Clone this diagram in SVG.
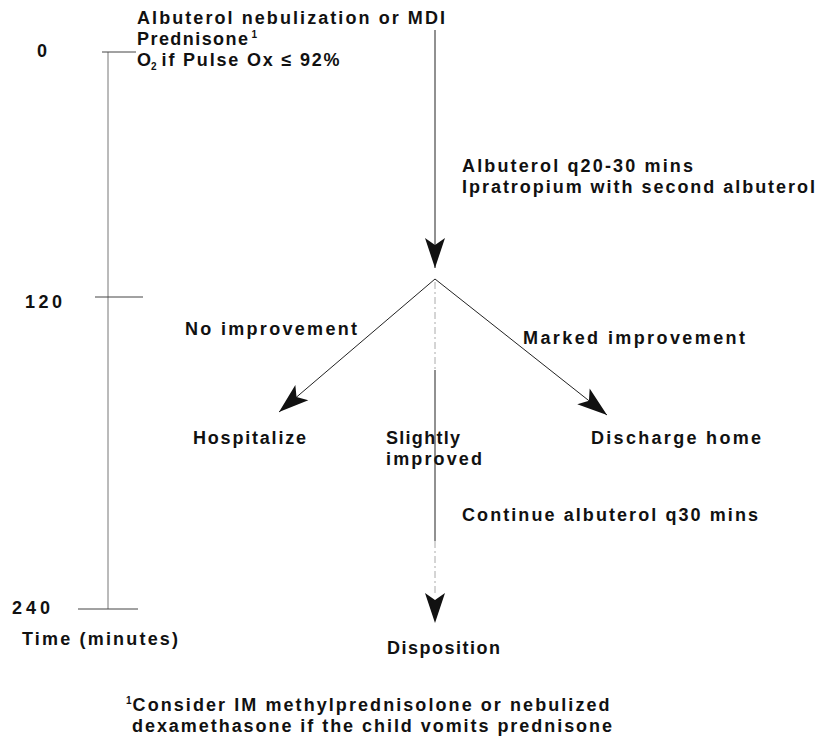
<svg xmlns="http://www.w3.org/2000/svg" width="818" height="739" viewBox="0 0 818 739">
  <style>
    text { font-family: "Liberation Sans", Arial, sans-serif; font-weight: bold; font-size: 18px; fill: #111; }
    .sup { font-size: 10px; }
    .sub { font-size: 10px; }
    .axis { stroke: #777; stroke-width: 1; fill: none; }
    .tick { stroke: #444; stroke-width: 1; fill: none; }
    .flow { stroke: #222; stroke-width: 1; fill: none; }
    .faint { stroke: #aaa; stroke-width: 1; fill: none; stroke-dasharray: 7 3 2 3; }
  </style>
  <defs>
    <marker id="head" viewBox="-31 -12 33 24" refX="0" refY="0" markerWidth="33" markerHeight="24" markerUnits="userSpaceOnUse" orient="auto">
      <path d="M0,0 L-30,-10 L-23,0 L-30,10 Z" fill="#111"/>
    </marker>
  </defs>

  <!-- time axis -->
  <g id="timeline">
    <line class="axis" x1="108" y1="52" x2="108" y2="609"/>
    <line class="tick" x1="102" y1="52" x2="136" y2="52"/>
    <line class="tick" x1="95" y1="297" x2="143" y2="297"/>
    <line class="tick" x1="78" y1="609" x2="138" y2="609"/>
    <text x="37" y="57">0</text>
    <text x="25" y="308" textLength="37" lengthAdjust="spacing">120</text>
    <text x="12" y="614" textLength="38" lengthAdjust="spacing">240</text>
    <text x="22" y="645" textLength="156" lengthAdjust="spacing">Time (minutes)</text>
  </g>

  <!-- connectors -->
  <g id="connectors">
    <line class="flow" x1="435" y1="30" x2="435" y2="268" marker-end="url(#head)"/>
    <line class="flow" x1="435" y1="279" x2="279" y2="412" marker-end="url(#head)"/>
    <line class="flow" x1="435" y1="279" x2="607" y2="415" marker-end="url(#head)"/>
    <line class="faint" x1="435" y1="282" x2="435" y2="370"/>
    <line class="flow" x1="435" y1="370" x2="435" y2="541"/>
    <line class="faint" x1="435" y1="541" x2="435" y2="596"/>
    <line stroke="none" x1="435" y1="594" x2="435" y2="623" marker-end="url(#head)"/>
  </g>

  <g id="start">
    <text x="137" y="24" textLength="308" lengthAdjust="spacing">Albuterol nebulization or MDI</text>
    <text x="137" y="45"><tspan textLength="111" lengthAdjust="spacing">Prednisone</tspan><tspan class="sup" dx="2" dy="-7">1</tspan></text>
    <text x="137" y="66">O<tspan class="sub" dy="4">2</tspan><tspan dy="-4" dx="5" textLength="178" lengthAdjust="spacing">if Pulse Ox ≤ 92%</tspan></text>
  </g>

  <g id="treatment">
    <text x="462" y="172" textLength="231" lengthAdjust="spacing">Albuterol q20-30 mins</text>
    <text x="462" y="193" textLength="353" lengthAdjust="spacing">Ipratropium with second albuterol</text>
  </g>

  <g id="label-no-improvement">
    <text x="185" y="335" textLength="172" lengthAdjust="spacing">No improvement</text>
  </g>
  <g id="label-marked-improvement">
    <text x="523" y="344" textLength="222" lengthAdjust="spacing">Marked improvement</text>
  </g>

  <g id="hospitalize">
    <text x="193" y="444" textLength="113" lengthAdjust="spacing">Hospitalize</text>
  </g>
  <g id="slightly-improved">
    <text x="386" y="444" textLength="74" lengthAdjust="spacing">Slightly</text>
    <text x="386" y="465" textLength="96" lengthAdjust="spacing">improved</text>
  </g>
  <g id="discharge">
    <text x="591" y="444" textLength="170" lengthAdjust="spacing">Discharge home</text>
  </g>
  <g id="continue">
    <text x="462" y="521" textLength="296" lengthAdjust="spacing">Continue albuterol q30 mins</text>
  </g>
  <g id="disposition">
    <text x="387" y="654" textLength="113" lengthAdjust="spacing">Disposition</text>
  </g>

  <g id="footnote">
    <text x="126" y="711"><tspan class="sup" dy="-7">1</tspan><tspan dy="7" dx="1" textLength="477" lengthAdjust="spacing">Consider IM methylprednisolone or nebulized</tspan></text>
    <text x="132" y="732" textLength="480" lengthAdjust="spacing">dexamethasone if the child vomits prednisone</text>
  </g>
</svg>
